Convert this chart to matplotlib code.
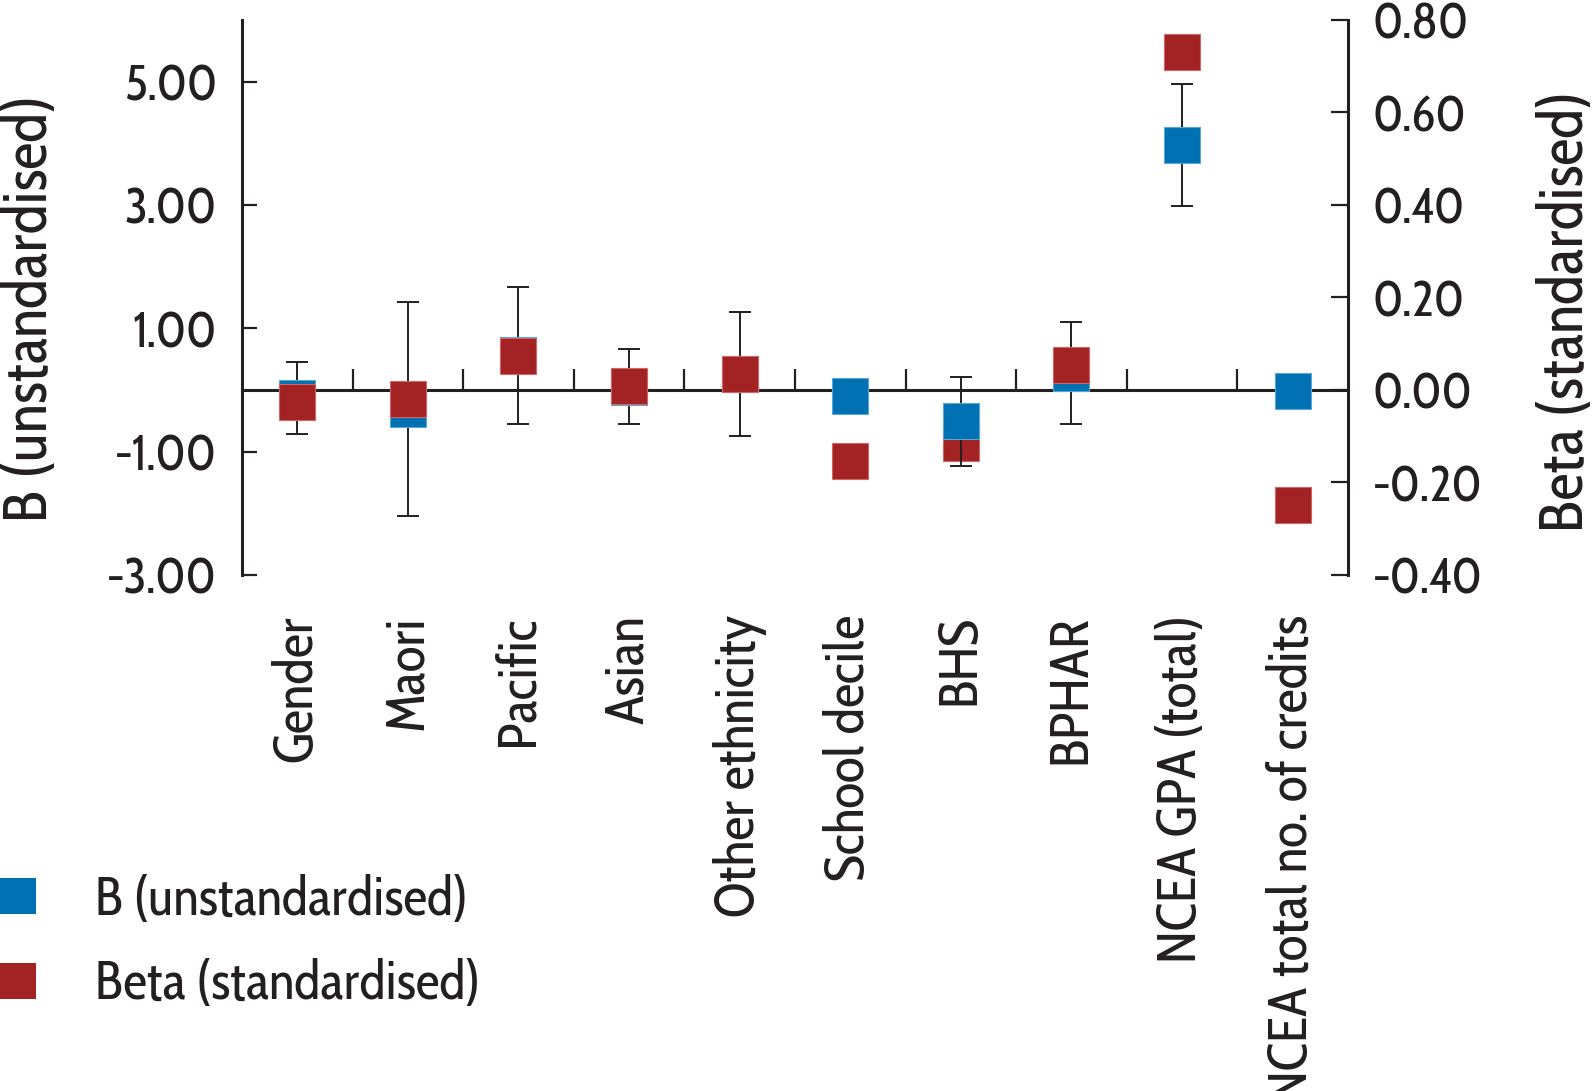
import numpy as np
import matplotlib
matplotlib.use("Agg")
from matplotlib import pyplot as plt
from matplotlib import transforms as mtransforms
from matplotlib.lines import Line2D
from matplotlib.ticker import FormatStrFormatter

plt.rcParams['font.family'] = ['Cabin Condensed', 'DejaVu Sans']

categories = ["Gender", "Maori", "Pacific", "Asian", "Other ethnicity", "School decile",
              "BHS", "BPHAR", "NCEA GPA (total)", "NCEA total no. of credits"]
b_values = [-0.13, -0.31, 0.56, 0.05, 0.26, -0.09, -0.51, 0.28, 3.97, -0.02]
b_err = [0.59, 1.73, 1.11, 0.61, 1.01, 0.10, 0.72, 0.83, 0.99, 0.10]
beta_values = [-0.026, -0.019, 0.074, 0.008, 0.034, -0.153, -0.115, 0.054, 0.73, -0.248]

left_ticks = [-3, -1, 1, 3, 5]
right_ticks = [-0.4, -0.2, 0.0, 0.2, 0.4, 0.6, 0.8]

blue = '#0071b2'
red = '#a32224'
ink = '#231f20'
tick_fs = 36
cat_fs = 39
label_fs = 44
legend_fs = 38.5

fig = plt.figure(figsize=(15.95, 10.91), dpi=100)
ax = fig.add_axes([0.1517, 0.473, 0.6934, 0.5087])
ax2 = ax.twinx()

x = np.arange(len(categories))
ax.set_xlim(-0.5, len(categories) - 0.5)
ax.set_ylim(-3, 6)
ax2.set_ylim(-0.4, 0.8)

# beta drawn on ax with ax2's y scale so the layering can be mixed per category
beta_tr = mtransforms.blended_transform_factory(ax.transData, ax2.transData)

for i, cat in enumerate(categories):
    ax.errorbar(x[i], b_values[i], yerr=b_err[i], fmt='none', ecolor=ink,
                elinewidth=1.4, capsize=8, capthick=1.4, zorder=3)
    ax.plot(x[i], b_values[i], 's', ms=26, color=blue, mec='#5aa6d6', mew=0.8, zorder=4)
    z = 2.8 if cat == "BHS" else 5
    ax.plot(x[i], beta_values[i], 's', ms=26, color=red, mec='#d06668', mew=0.8,
            transform=beta_tr, zorder=z, clip_on=False)

# spines
for s in ['top', 'right']:
    ax.spines[s].set_visible(False)
for s in ['top', 'left', 'bottom']:
    ax2.spines[s].set_visible(False)
ax.spines['left'].set_linewidth(2.2)
ax.spines['left'].set_color(ink)
ax2.spines['right'].set_linewidth(2.2)
ax2.spines['right'].set_color(ink)
ax.spines['bottom'].set_position(('data', 0))
ax.spines['bottom'].set_linewidth(2.2)
ax.spines['bottom'].set_color(ink)

# zero line ticks between categories
ax.set_xticks([])
ax.set_xticks(x[:-1] + 0.5, minor=True)
ax.tick_params(axis='x', which='minor', direction='in', length=15, width=1.6, color=ink)

# category labels at the bottom
sec = ax.secondary_xaxis('bottom')
sec.set_xticks(x, categories, rotation=90)
sec.spines['bottom'].set_visible(False)
sec.tick_params(length=0, pad=29, labelsize=cat_fs, labelcolor=ink)

ax.set_yticks(left_ticks)
ax.yaxis.set_major_formatter(FormatStrFormatter('%.2f'))
ax.tick_params(axis='y', direction='in', length=11, width=1.6, color=ink,
               labelsize=tick_fs, labelcolor=ink, pad=18)
ax2.set_yticks(right_ticks)
ax2.yaxis.set_major_formatter(FormatStrFormatter('%.2f'))
ax2.tick_params(axis='y', direction='in', length=12, width=1.6, color=ink,
                labelsize=tick_fs, labelcolor=ink, pad=18)

fig.text(31 / 1595, 1 - 308 / 1091, "B (unstandardised)", rotation=90,
         ha='center', va='center', fontsize=label_fs, color=ink)
fig.text(1567 / 1595, 1 - 311 / 1091, "Beta (standardised)", rotation=90,
         ha='center', va='center', fontsize=label_fs, color=ink)

handles = [Line2D([], [], ls='none', marker='s', ms=26, color=blue, mew=0),
           Line2D([], [], ls='none', marker='s', ms=26, color=red, mew=0)]
fig.legend(handles, ["B (unstandardised)", "Beta (standardised)"],
           loc='center left', bbox_to_anchor=(0, 1 - 943 / 1091), frameon=False,
           fontsize=legend_fs, borderpad=0, borderaxespad=0, handlelength=0.67,
           handletextpad=1.1, labelspacing=0.57, labelcolor=ink)

fig.savefig("out.png", dpi=100)
